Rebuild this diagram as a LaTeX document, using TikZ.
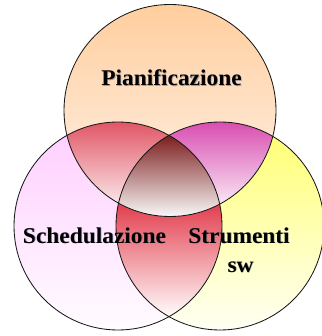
\documentclass[tikz,border=0pt]{standalone}
\usepackage{fontspec}
\setmainfont{Liberation Serif}
\definecolor{peachT}{RGB}{255,206,158}
\definecolor{peachB}{RGB}{255,244,236}
\definecolor{pinkT}{RGB}{255,205,255}
\definecolor{pinkB}{RGB}{255,252,255}
\definecolor{yelT}{RGB}{255,255,110}
\definecolor{yelB}{RGB}{255,255,244}
\definecolor{redA}{RGB}{224,84,100}
\definecolor{magA}{RGB}{216,76,176}
\definecolor{redB}{RGB}{226,58,74}
\definecolor{cenT}{RGB}{122,26,26}
\definecolor{cenM}{RGB}{186,176,176}
\definecolor{cenB}{RGB}{250,250,250}
\definecolor{shadowc}{RGB}{90,105,140}
\definecolor{rim}{RGB}{25,25,25}
\tikzset{
  lbl/.style={font=\fontsize{22.5}{25}\selectfont\bfseries, inner sep=0pt, anchor=base, xscale=1.04, text=black},
  lblsh/.style={lbl, text=shadowc, opacity=0.55},
  rimline/.style={draw=rim, line width=0.85pt}
}
\begin{document}
\begin{tikzpicture}[x=1pt,y=-1pt]
\useasboundingbox (0,0) rectangle (321,336);
\fill[white] (0,0) rectangle (321,336);
\coordinate (ctop) at (170,110.5);
\coordinate (cleft) at (118,226);
\coordinate (cright) at (220,226);
\def\rT{106pt}
\def\rS{104pt}
% base circles
\shade[top color=peachT, bottom color=peachB] (ctop) circle[radius=\rT];
\shade[top color=pinkT, bottom color=pinkB] (cleft) circle[radius=\rS];
\shade[top color=yelT, bottom color=yelB] (cright) circle[radius=\rS];
% top-left lens
\begin{scope}
  \clip (ctop) circle[radius=\rT];
  \clip (cleft) circle[radius=\rS];
  \shade[top color=redA, bottom color=white] (10,121) rectangle (230,217);
\end{scope}
% top-right lens
\begin{scope}
  \clip (ctop) circle[radius=\rT];
  \clip (cright) circle[radius=\rS];
  \shade[top color=magA, bottom color=white] (110,121) rectangle (330,217);
\end{scope}
% bottom lens
\begin{scope}
  \clip (cleft) circle[radius=\rS];
  \clip (cright) circle[radius=\rS];
  \fill[redB] (100,120) rectangle (240,202);
  \shade[top color=redB, bottom color=white] (100,201) rectangle (240,318);
\end{scope}
% center
\begin{scope}
  \clip (ctop) circle[radius=\rT];
  \clip (cleft) circle[radius=\rS];
  \clip (cright) circle[radius=\rS];
  \shade[top color=cenT, middle color=cenM, bottom color=cenB] (100,134) rectangle (240,217);
\end{scope}
% outlines
\draw[rimline] (ctop) circle[radius=\rT];
\draw[rimline] (cleft) circle[radius=\rS];
\draw[rimline] (cright) circle[radius=\rS];
% labels
\node[lblsh] (pianS) at (172.3,86.8) {Pianificazione};
\node[lbl] (pian) at (171.5,86) {Pianificazione};
\node[lblsh] (schedS) at (95.3,243.8) {Schedulazione};
\node[lbl] (sched) at (94.5,243) {Schedulazione};
\node[lblsh] (strumS) at (239.8,243.8) {Strumenti};
\node[lbl] (strum) at (239,243) {Strumenti};
\node[lblsh] (swS) at (241.3,272.8) {sw};
\node[lbl] (sw) at (240.5,272) {sw};
\end{tikzpicture}
\end{document}
